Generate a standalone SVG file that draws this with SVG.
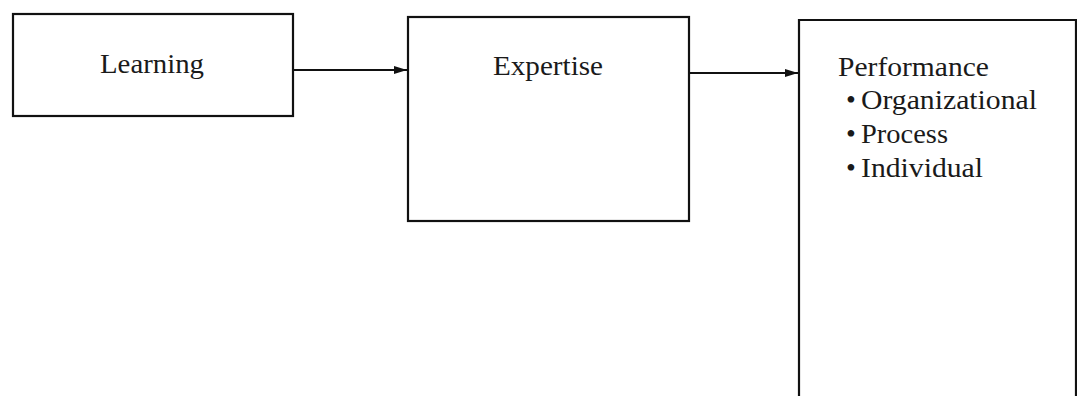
<svg xmlns="http://www.w3.org/2000/svg" width="1077" height="396" viewBox="0 0 1077 396">
<style>
.box{fill:none;stroke:#111;stroke-width:2.2}
.t{font-family:"Liberation Serif","DejaVu Serif",serif;font-size:28px;fill:#1a1a1a}
.c{stroke:#111;stroke-width:2;fill:none}
</style>
<defs>
<marker id="ah" markerWidth="13" markerHeight="10" refX="13" refY="5" orient="auto" markerUnits="userSpaceOnUse">
<path d="M0,1 L13,5 L0,9 Z" fill="#111"/>
</marker>
</defs>
<rect width="1077" height="396" fill="#fff"/>
<g id="learning">
<rect class="box" x="13" y="14" width="280" height="102"/>
<text class="t" x="100" y="73" textLength="104" lengthAdjust="spacingAndGlyphs">Learning</text>
</g>
<g id="expertise">
<rect class="box" x="408" y="17" width="281" height="204"/>
<text class="t" x="493" y="75" textLength="110" lengthAdjust="spacingAndGlyphs">Expertise</text>
</g>
<g id="performance">
<path class="box" d="M799,400 L799,20 L1076,20 L1076,400"/>
<text class="t" x="838" y="76" textLength="151" lengthAdjust="spacingAndGlyphs">Performance</text>
<text class="t" x="846" y="109">•</text>
<text class="t" x="861" y="109" textLength="176" lengthAdjust="spacingAndGlyphs">Organizational</text>
<text class="t" x="846" y="143">•</text>
<text class="t" x="861" y="143" textLength="87" lengthAdjust="spacingAndGlyphs">Process</text>
<text class="t" x="846" y="177">•</text>
<text class="t" x="861" y="177" textLength="122" lengthAdjust="spacingAndGlyphs">Individual</text>
</g>
<g id="connectors">
<line class="c" x1="293" y1="70" x2="407" y2="70" marker-end="url(#ah)"/>
<line class="c" x1="689" y1="73" x2="798" y2="73" marker-end="url(#ah)"/>
</g>
</svg>
